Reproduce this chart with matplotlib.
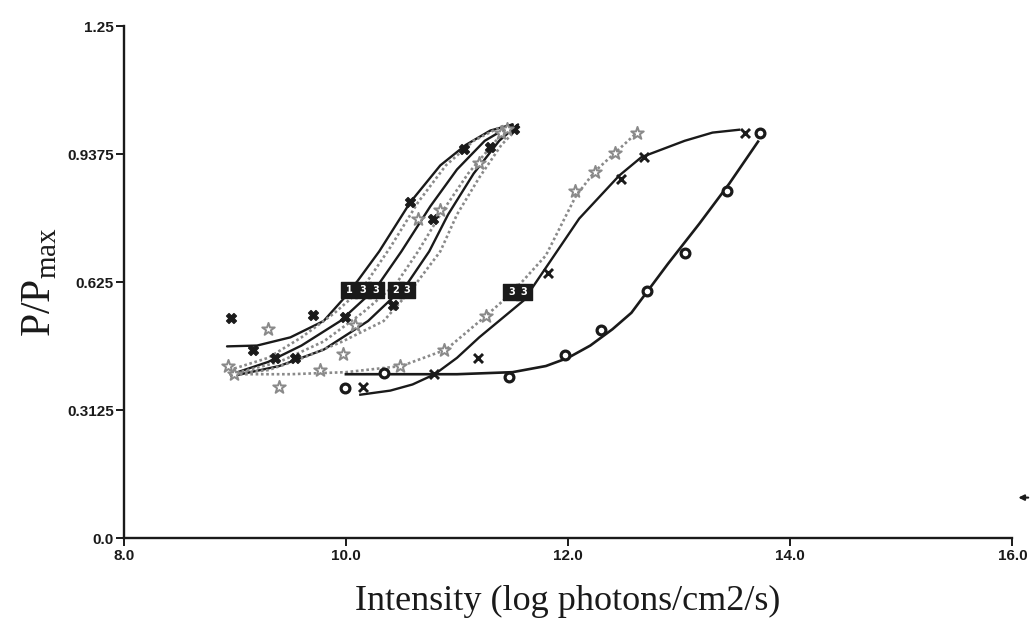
import matplotlib
matplotlib.use("Agg")
import matplotlib.pyplot as plt

# ---- data (x = log intensity, y = P/Pmax) ----
x_ticks = [8.0, 10.0, 12.0, 14.0, 16.0]
x_tick_labels = ["8.0", "10.0", "12.0", "14.0", "16.0"]
y_ticks = [0.0, 0.3125, 0.625, 0.9375, 1.25]
y_tick_labels = ["0.0", "0.3125", "0.625", "0.9375", "1.25"]

# left cluster of fitted curves (alternating solid / dotted)
l1_x = [8.93, 9.2, 9.5, 9.8, 10.03, 10.3, 10.58, 10.85, 11.08, 11.3, 11.5]
l1_y = [0.468, 0.47, 0.49, 0.53, 0.60, 0.70, 0.82, 0.91, 0.96, 0.995, 1.01]
l2_x = [8.95, 9.3, 9.6, 9.9, 10.15, 10.4, 10.65, 10.9, 11.15, 11.4, 11.5]
l2_y = [0.41, 0.44, 0.49, 0.55, 0.61, 0.71, 0.82, 0.91, 0.97, 1.005, 1.01]
l3_x = [8.97, 9.3, 9.6, 9.95, 10.27, 10.5, 10.76, 11.0, 11.25, 11.5]
l3_y = [0.40, 0.43, 0.47, 0.53, 0.61, 0.70, 0.81, 0.90, 0.97, 1.01]
l4_x = [8.97, 9.4, 9.8, 10.15, 10.45, 10.65, 10.85, 11.1, 11.35, 11.52]
l4_y = [0.40, 0.43, 0.48, 0.55, 0.62, 0.70, 0.79, 0.89, 0.97, 1.01]
l5_x = [8.97, 9.4, 9.8, 10.2, 10.55, 10.75, 10.92, 11.15, 11.38, 11.55]
l5_y = [0.395, 0.42, 0.46, 0.53, 0.62, 0.70, 0.79, 0.89, 0.97, 1.01]
l6_x = [8.95, 9.3, 9.56, 9.97, 10.34, 10.6, 10.85, 11.0, 11.2, 11.4, 11.58]
l6_y = [0.40, 0.41, 0.434, 0.48, 0.53, 0.61, 0.70, 0.79, 0.88, 0.96, 1.01]

left_dark_x = [8.97, 9.16, 9.36, 9.54, 9.70, 9.99, 10.42, 10.58, 10.78, 11.06, 11.3, 11.51]
left_dark_y = [0.538, 0.46, 0.44, 0.44, 0.545, 0.54, 0.57, 0.82, 0.78, 0.95, 0.955, 1.0]
left_gray_x = [9.30, 8.94, 8.99, 9.40, 9.77, 9.97, 10.08, 10.65, 10.85, 11.2, 11.4, 11.45]
left_gray_y = [0.51, 0.42, 0.40, 0.37, 0.41, 0.45, 0.52, 0.78, 0.80, 0.915, 0.99, 1.0]

# boxed markers sitting on the 0.6 level
box_x = [10.03, 10.15, 10.27, 10.45, 10.55, 11.49, 11.60]
box_y = [0.605, 0.605, 0.605, 0.605, 0.605, 0.60, 0.60]
box_labels = ["1", "3", "3", "2", "3", "3", "3"]

# right group: dotted gray curve
a_x = [8.95, 9.5, 10.0, 10.5, 10.9, 11.25, 11.5, 11.8, 12.07, 12.24, 12.42, 12.62]
a_y = [0.40, 0.40, 0.405, 0.42, 0.46, 0.54, 0.60, 0.69, 0.835, 0.895, 0.94, 0.99]
a_pts_x = [10.49, 10.88, 11.26, 12.06, 12.24, 12.42, 12.62]
a_pts_y = [0.42, 0.46, 0.543, 0.847, 0.895, 0.94, 0.99]

# right group: solid curve with crosses
b_x = [10.13, 10.4, 10.6, 10.8, 11.0, 11.2, 11.4, 11.6, 11.85, 12.1, 12.46, 12.66, 13.05, 13.3, 13.54]
b_y = [0.35, 0.36, 0.375, 0.40, 0.44, 0.49, 0.535, 0.58, 0.68, 0.78, 0.885, 0.93, 0.97, 0.99, 0.997]
b_pts_x = [10.15, 10.79, 11.19, 11.82, 12.48, 12.68, 13.59]
b_pts_y = [0.37, 0.40, 0.44, 0.647, 0.876, 0.93, 0.99]

# right group: solid curve with circles
c_x = [10.0, 10.5, 11.0, 11.5, 11.8, 12.0, 12.2, 12.4, 12.57, 12.9, 13.18, 13.45, 13.71]
c_y = [0.40, 0.40, 0.40, 0.405, 0.42, 0.44, 0.47, 0.51, 0.55, 0.67, 0.767, 0.865, 0.968]
c_pts_x = [9.99, 10.34, 11.47, 11.97, 12.30, 12.71, 13.05, 13.43, 13.73]
c_pts_y = [0.367, 0.403, 0.393, 0.446, 0.507, 0.603, 0.695, 0.847, 0.99]

dark = "#1a1a1a"
gray = "#8a8a8a"
dots = (0, (1, 1))

plt.rcParams["mathtext.fontset"] = "custom"
plt.rcParams["mathtext.rm"] = "Liberation Serif"

fig = plt.figure(figsize=(10.31, 6.22), dpi=100, facecolor="white")
ax = fig.add_axes([0.120, 0.135, 0.862, 0.823])

# left cluster lines
for xs, ys, solid in [(l1_x, l1_y, True), (l2_x, l2_y, False), (l3_x, l3_y, True),
                      (l4_x, l4_y, False), (l5_x, l5_y, True), (l6_x, l6_y, False)]:
    if solid:
        ax.plot(xs, ys, color=dark, lw=1.7, solid_capstyle="round")
    else:
        ax.plot(xs, ys, color=gray, lw=1.9, linestyle=dots)

# right group lines
ax.plot(a_x, a_y, color=gray, lw=1.9, linestyle=dots)
ax.plot(b_x, b_y, color=dark, lw=1.7)
ax.plot(c_x, c_y, color=dark, lw=1.9)

# markers
ax.scatter(left_dark_x, left_dark_y, marker="X", s=50, color=dark, zorder=3)
ax.scatter(left_gray_x, left_gray_y, marker="*", s=90, facecolor="white",
           edgecolor=gray, linewidth=1.4, zorder=3)
ax.scatter(a_pts_x, a_pts_y, marker="*", s=90, facecolor="white",
           edgecolor=gray, linewidth=1.4, zorder=3)
ax.scatter(b_pts_x, b_pts_y, marker="x", s=42, color=dark, linewidth=2.1, zorder=3)
ax.scatter(c_pts_x, c_pts_y, marker="o", s=40, facecolor="white",
           edgecolor=dark, linewidth=2.3, zorder=3)
ax.scatter(box_x, box_y, marker="s", s=120, color=dark, zorder=4)
for bx, by, bl in zip(box_x, box_y, box_labels):
    ax.text(bx, by, bl, color="white", fontsize=7, fontweight="bold",
            ha="center", va="center", zorder=5)

# axes styling
ax.set_xlim(8.0, 16.0)
ax.set_ylim(0.0, 1.25)
ax.set_xticks(x_ticks)
ax.set_xticklabels(x_tick_labels)
ax.set_yticks(y_ticks)
ax.set_yticklabels(y_tick_labels)
for side in ["top", "right"]:
    ax.spines[side].set_visible(False)
for side in ["left", "bottom"]:
    ax.spines[side].set_linewidth(1.7)
    ax.spines[side].set_color(dark)
ax.tick_params(axis="both", direction="out", length=6, width=1.4, color=dark)
ax.tick_params(axis="x", pad=2)
ax.tick_params(axis="y", pad=1)
for lab in ax.get_xticklabels() + ax.get_yticklabels():
    lab.set_fontfamily("Liberation Sans")
    lab.set_fontweight("bold")
    lab.set_fontsize(11)
    lab.set_color(dark)

ax.set_xlabel("Intensity (log photons/cm2/s)", fontfamily="Liberation Serif",
              fontsize=26, color=dark, labelpad=16)
ax.set_ylabel(r"P/P$_{\mathrm{max}}$", fontfamily="Liberation Serif", fontsize=30,
              color=dark, labelpad=6)

# small arrow mark at the right edge of the scan
fig.add_artist(matplotlib.patches.FancyArrowPatch(
    (1.0, 0.2), (0.985, 0.2), transform=fig.transFigure,
    arrowstyle="-|>", mutation_scale=8, color=dark, lw=1.5))

fig.savefig("out.png", dpi=100, facecolor="white")
